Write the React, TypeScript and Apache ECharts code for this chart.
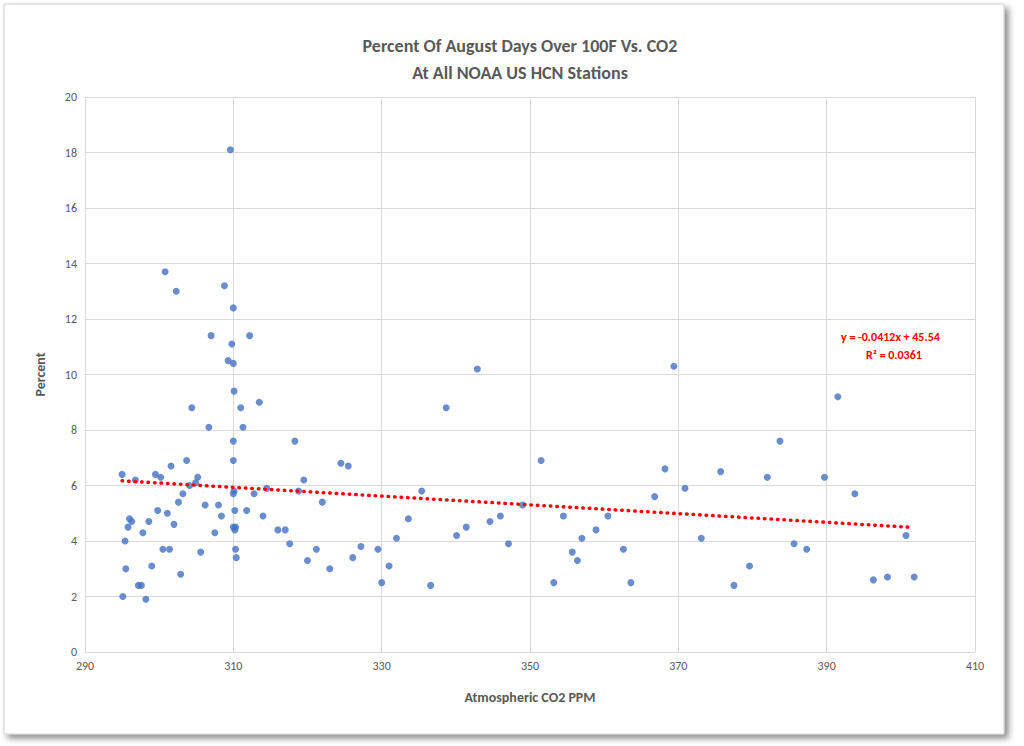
import React, { useEffect, useRef } from "react";
import * as echarts from "echarts";

const co2: number[] = [295.0,295.1,295.4,295.5,295.8,296.0,296.3,296.8,297.2,297.6,297.8,298.2,298.6,299.0,299.5,299.8,300.2,300.5,300.8,301.1,301.4,301.6,302.0,302.3,302.6,302.9,303.2,303.7,304.1,304.4,304.9,305.2,305.6,306.2,306.7,307.0,307.5,308.0,308.4,308.8,309.3,309.6,309.8,310.0,310.0,310.1,310.0,310.0,310.1,310.0,310.2,310.0,310.2,310.3,310.4,310.3,311.0,311.3,311.8,312.2,312.8,313.5,314.0,314.5,316.0,317.0,317.6,318.3,318.8,319.5,320.0,321.2,322.0,323.0,324.5,325.5,326.1,327.2,329.5,330.0,331.0,332.0,333.6,335.4,336.6,338.7,340.1,341.4,342.9,344.6,346.0,347.1,349.0,351.5,353.2,354.5,355.7,356.4,357.0,358.9,360.5,362.6,363.6,366.8,368.2,369.4,370.9,373.1,375.7,377.5,379.6,382.0,383.7,385.6,387.3,389.7,391.5,393.8,396.3,398.2,400.7,401.8];
const pct: number[] = [6.4,2.0,4.0,3.0,4.5,4.8,4.7,6.2,2.4,2.4,4.3,1.9,4.7,3.1,6.4,5.1,6.3,3.7,13.7,5.0,3.7,6.7,4.6,13.0,5.4,2.8,5.7,6.9,6.0,8.8,6.1,6.3,3.6,5.3,8.1,11.4,4.3,5.3,4.9,13.2,10.5,18.1,11.1,10.4,12.4,9.4,7.6,6.9,5.8,5.7,5.1,4.5,4.4,3.7,3.4,4.5,8.8,8.1,5.1,11.4,5.7,9.0,4.9,5.9,4.4,4.4,3.9,7.6,5.8,6.2,3.3,3.7,5.4,3.0,6.8,6.7,3.4,3.8,3.7,2.5,3.1,4.1,4.8,5.8,2.4,8.8,4.2,4.5,10.2,4.7,4.9,3.9,5.3,6.9,2.5,4.9,3.6,3.3,4.1,4.4,4.9,3.7,2.5,5.6,6.6,10.3,5.9,4.1,6.5,2.4,3.1,6.3,7.6,3.9,3.7,6.3,9.2,5.7,2.6,2.7,4.2,2.7];
const trendX: number[] = [295.0, 401.0];
const trendY: number[] = [6.17, 4.5];

export default function App() {
  const ref = useRef<HTMLDivElement>(null);
  useEffect(() => {
    const chart = echarts.init(ref.current!, null, { renderer: "svg" });
    const font = "Calibri, 'Open Sans', 'Liberation Sans', Arial, sans-serif";
    chart.setOption({
      animation: false,
      backgroundColor: "#ffffff",
      textStyle: { fontFamily: font },
      title: {
        text: "Percent Of August Days Over 100F Vs. CO2\nAt All NOAA US HCN Stations",
        left: 515, top: 27, textAlign: "center",
        textStyle: { color: "#595959", fontSize: 18, fontWeight: 600, lineHeight: 27, fontFamily: font },
      },
      graphic: [
        { type: "rect", shape: { x: 4, y: 4, width: 1000, height: 730 }, z: -10,
          style: { fill: "#fff", stroke: "#d0d0d0", lineWidth: 1, shadowBlur: 6, shadowOffsetX: 4, shadowOffsetY: 4, shadowColor: "rgba(0,0,0,0.45)" } },
        { type: "text", left: 841, top: 331, style: { text: "y = -0.0412x + 45.54", fill: "#ff0000", font: "bold 12px " + font } },
        { type: "text", left: 866, top: 349, style: { text: "R² = 0.0361", fill: "#ff0000", font: "bold 12px " + font } },
      ],
      grid: { left: 85, right: 49, top: 97, bottom: 94 },
      xAxis: {
        type: "value", min: 290, max: 410, interval: 20,
        name: "Atmospheric CO2 PPM", nameLocation: "middle", nameGap: 38,
        nameTextStyle: { color: "#595959", fontSize: 14, fontWeight: "bold" },
        axisLine: { show: false }, axisTick: { show: false },
        axisLabel: { color: "#595959", fontSize: 12 },
        splitLine: { lineStyle: { color: "#d9d9d9" } },
      },
      yAxis: {
        type: "value", min: 0, max: 20, interval: 2,
        name: "Percent", nameLocation: "middle", nameGap: 38,
        nameTextStyle: { color: "#595959", fontSize: 14, fontWeight: "bold" },
        axisLine: { show: false }, axisTick: { show: false },
        axisLabel: { color: "#595959", fontSize: 12 },
        splitLine: { lineStyle: { color: "#d9d9d9" } },
      },
      series: [
        { type: "scatter", symbolSize: 7, itemStyle: { color: "#4472C4" },
          data: co2.map((x, i) => [x, pct[i]]) },
        { type: "line", symbol: "none", lineStyle: { color: "#ff0000", width: 3.5, type: [0.5, 6], cap: "round" },
          data: trendX.map((x, i) => [x, trendY[i]]) },
      ],
    });
    return () => chart.dispose();
  }, []);
  return <div ref={ref} style={{ position: "absolute", left: 0, top: 0, width: 1024, height: 746 }} />;
}
